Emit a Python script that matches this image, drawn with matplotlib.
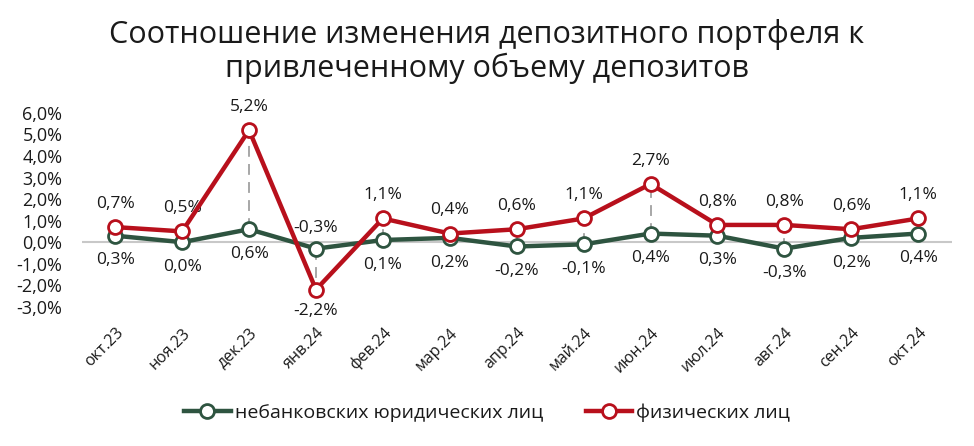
import matplotlib
matplotlib.use("Agg")
import matplotlib.pyplot as plt
from matplotlib.ticker import FuncFormatter

# - - - - - - - DATA - - - - - - -
months = ["окт.23", "ноя.23", "дек.23", "янв.24", "фев.24", "мар.24", "апр.24",
          "май.24", "июн.24", "июл.24", "авг.24", "сен.24", "окт.24"]
legal = [0.3, 0.0, 0.6, -0.3, 0.1, 0.2, -0.2, -0.1, 0.4, 0.3, -0.3, 0.2, 0.4]
individuals = [0.7, 0.5, 5.2, -2.2, 1.1, 0.4, 0.6, 1.1, 2.7, 0.8, 0.8, 0.6, 1.1]
yticks = [-3, -2, -1, 0, 1, 2, 3, 4, 5, 6]

title = "Соотношение изменения депозитного портфеля к\nпривлеченному объему депозитов"
legal_name = "небанковских юридических лиц"
ind_name = "физических лиц"

# - - - - - - - STYLE - - - - - - -
GREEN = "#2e5440"
RED = "#b8101c"
TXT = "#1a1a1a"
plt.rcParams["font.family"] = ["Open Sans", "DejaVu Sans"]


def pct(v):
    return f"{v:.1f}%".replace(".", ",")


# - - - - - - - PLOT - - - - - - -
fig = plt.figure(figsize=(9.74, 4.46), dpi=100)
ax = fig.add_axes([0.084, 0.312, 0.893, 0.435])

x = list(range(len(months)))

for i in x:
    ax.plot([i, i], [legal[i], individuals[i]], color="#a0a0a0", lw=1.3,
            ls=(0, (6, 4)), zorder=1)

ax.axhline(0, color="#c8c8c8", lw=1.5, zorder=0)

ax.plot(x, legal, color=GREEN, lw=3.2, marker="o", ms=10, mfc="white",
        mec=GREEN, mew=2, label=legal_name, zorder=3)
ax.plot(x, individuals, color=RED, lw=3.2, marker="o", ms=10, mfc="white",
        mec=RED, mew=2, label=ind_name, zorder=4)

for i in x:
    lv, rv = legal[i], individuals[i]
    if rv >= lv:
        ax.annotate(pct(rv), (i, rv), xytext=(0, 11), textcoords="offset points",
                    ha="center", va="bottom", fontsize=12.5, color=TXT)
        ax.annotate(pct(lv), (i, lv), xytext=(0, -12), textcoords="offset points",
                    ha="center", va="top", fontsize=12.5, color=TXT)
    else:
        ax.annotate(pct(lv), (i, lv), xytext=(0, 9), textcoords="offset points",
                    ha="center", va="bottom", fontsize=12.5, color=TXT)
        ax.annotate(pct(rv), (i, rv), xytext=(0, -10), textcoords="offset points",
                    ha="center", va="top", fontsize=12.5, color=TXT)

ax.set_xlim(-0.5, len(months) - 0.5)
ax.set_ylim(-3, 6)
ax.set_yticks(yticks)
ax.yaxis.set_major_formatter(FuncFormatter(lambda v, p: pct(v)))
ax.set_xticks(x)
ax.set_xticklabels(months, rotation=45, ha="right", va="top",
                   rotation_mode="anchor", fontsize=11.5, color=TXT)
ax.tick_params(axis="y", labelsize=13, colors=TXT, length=0, pad=14)
ax.tick_params(axis="x", length=0, pad=13)
for s in ax.spines.values():
    s.set_visible(False)

fig.suptitle(title, fontsize=22, color=TXT, y=0.957, va="top", linespacing=1.1)

fig.legend(loc="lower center", bbox_to_anchor=(0.5, 0.015), ncol=2, frameon=False,
           fontsize=14, handlelength=2.4, handletextpad=0.2, columnspacing=2.2,
           labelcolor=TXT)

fig.savefig("out.png", dpi=100, facecolor="white")
